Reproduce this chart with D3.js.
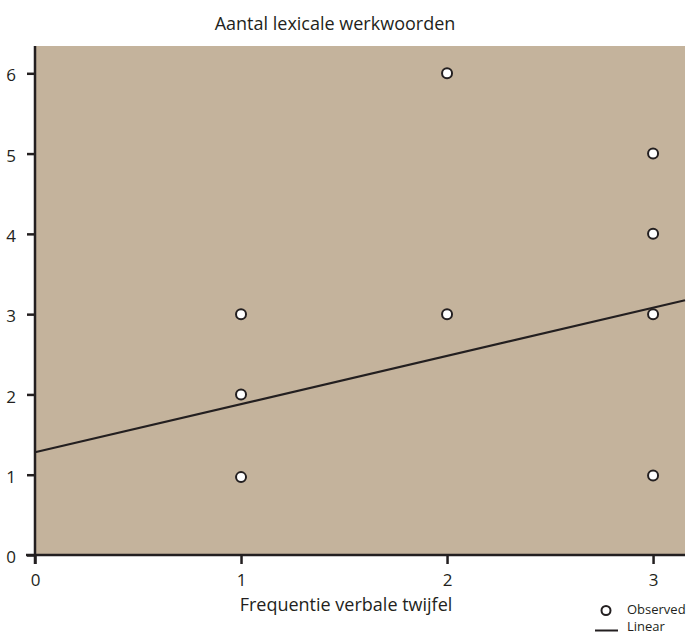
<!DOCTYPE html>
<html lang="nl">
<head>
<meta charset="utf-8">
<title>Aantal lexicale werkwoorden</title>
<script src="https://cdn.jsdelivr.net/npm/d3@7"></script>
<style>
  body { margin: 0; background: #fff; }
  text { font-family: "Open Sans", "Noto Sans", sans-serif; fill: #231f20; }
</style>
</head>
<body>
<div id="chart"></div>
<script>
// observed points
var obsX = [1, 1, 1, 2, 2, 3, 3, 3, 3];
var obsY = [0.97, 2, 3, 3, 6, 0.99, 3, 4, 5];
// linear fit
var fitIntercept = 1.28;
var fitSlope = 0.6;
var xTicks = [0, 1, 2, 3];
var yTicks = [0, 1, 2, 3, 4, 5, 6];

var W = 688, H = 634;
var m = {top: 46, right: 3, bottom: 79, left: 35};
var w = W - m.left - m.right, h = H - m.top - m.bottom;

var svg = d3.select("#chart").append("svg").attr("width", W).attr("height", H);
var g = svg.append("g").attr("transform", "translate(" + m.left + "," + m.top + ")");

var x = d3.scaleLinear().domain([0, 3.155]).range([0, w]);
var y = d3.scaleLinear().domain([0, 6.34]).range([h, 0]);

g.append("rect").attr("width", w).attr("height", h).style("fill", "#c4b39c");

// fit line
var x0 = x.domain()[0], x1 = x.domain()[1];
g.append("line")
  .attr("x1", x(x0)).attr("y1", y(fitIntercept + fitSlope * x0))
  .attr("x2", x(x1)).attr("y2", y(fitIntercept + fitSlope * x1))
  .style("stroke", "#231f20").style("stroke-width", 2.2);

// axes
var xAxis = g.append("g").attr("transform", "translate(0," + h + ")")
  .call(d3.axisBottom(x).tickValues(xTicks).tickFormat(d3.format("d")).tickSize(9).tickPadding(10));
var yAxis = g.append("g")
  .call(d3.axisLeft(y).tickValues(yTicks).tickFormat(d3.format("d")).tickSize(8).tickPadding(11));

[xAxis, yAxis].forEach(function(a){
  a.select(".domain").remove();
  a.attr("font-size", null).attr("font-family", null);
  a.selectAll(".tick line").style("stroke", "#231f20").style("stroke-width", 2.5);
  a.selectAll("text").style("font-size", "17px").style("fill", "#231f20");
});
yAxis.selectAll(".tick text").attr("dy", "0.45em");

// axis lines
g.append("line").attr("x1", -9).attr("x2", w).attr("y1", h).attr("y2", h)
  .style("stroke", "#231f20").style("stroke-width", 2.5);
g.append("line").attr("x1", 0).attr("x2", 0).attr("y1", 0).attr("y2", h + 9)
  .style("stroke", "#231f20").style("stroke-width", 2.5);

// points
g.selectAll("circle.obs").data(obsX).enter().append("circle")
  .attr("class", "obs")
  .attr("cx", function(d){ return x(d); })
  .attr("cy", function(d, i){ return y(obsY[i]); })
  .attr("r", 5)
  .style("fill", "#fff").style("stroke", "#231f20").style("stroke-width", 2);

// titles
svg.append("text").attr("x", 335).attr("y", 30).attr("text-anchor", "middle")
  .style("font-size", "18px").text("Aantal lexicale werkwoorden");
svg.append("text").attr("x", 346).attr("y", 611).attr("text-anchor", "middle")
  .style("font-size", "18px").text("Frequentie verbale twijfel");

// legend
var lg = svg.append("g");
lg.append("circle").attr("cx", 606).attr("cy", 610.5).attr("r", 4.5)
  .style("fill", "#fff").style("stroke", "#231f20").style("stroke-width", 2);
lg.append("text").attr("x", 627).attr("y", 614).style("font-size", "13px").text("Observed");
lg.append("line").attr("x1", 595).attr("x2", 618).attr("y1", 630.5).attr("y2", 630.5)
  .style("stroke", "#231f20").style("stroke-width", 2);
lg.append("text").attr("x", 627).attr("y", 630.5).style("font-size", "13px").text("Linear");
</script>
</body>
</html>
